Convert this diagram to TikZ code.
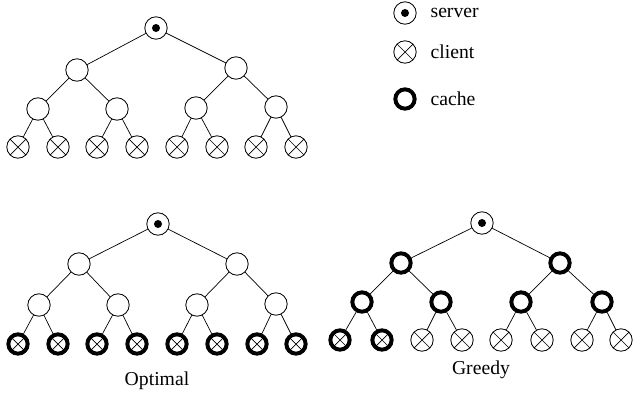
\documentclass[tikz,border=0pt]{standalone}
\usepackage{fontspec}
\setmainfont{Liberation Serif}
\newcommand{\rad}{0.28cm}
\tikzset{
    tree node/.style={circle, draw, line width=0.6pt, minimum size=2*\rad, inner sep=0pt},
    server node/.style={tree node,
        path picture={\fill (path picture bounding box.center) circle (0.1cm);}},
    client node/.style={tree node,
        path picture={\draw[line width=0.5pt]
            (path picture bounding box.north west) -- (path picture bounding box.south east)
            (path picture bounding box.north east) -- (path picture bounding box.south west);}},
    cache node/.style={line width=2.8pt, minimum size=2*\rad-2.2pt},
    tree edge/.style={draw, line width=0.5pt},
    label text/.style={font=\fontsize{14}{16}\selectfont, inner sep=0pt}
}

\begin{document}
\begin{tikzpicture}[x=0.025cm, y=-0.025cm]
        \useasboundingbox (0,0) rectangle (633,396);

        % top tree: server, plain nodes, clients
        \foreach \k/\x/\y in {2/77/70, 3/236/68, 4/38/109, 5/117/109, 6/196/108, 7/276/107}
            \node[tree node] (t\k) at (\x,\y) {};
        \foreach \k/\x in {8/18, 9/58, 10/97, 11/137, 12/177, 13/217, 14/256, 15/296}
            \node[client node] (t\k) at (\x,147) {};
        \node[server node] (t1) at (156,28) {};

        % optimal tree: caches at the clients
        \foreach \k/\x/\y in {2/79/264, 3/237/264, 4/39/305, 5/118/305, 6/197/305, 7/276/304}
            \node[tree node] (o\k) at (\x,\y) {};
        \foreach \k/\x in {8/18, 9/58, 10/97, 11/137, 12/177, 13/217, 14/257, 15/296}
            \node[client node, cache node] (o\k) at (\x,344) {};
        \node[server node] (o1) at (158,224) {};
        \node[label text] (optimal) at (157,381) {Optimal};

        % greedy tree: caches near the server
        \foreach \k/\x/\y in {2/401/263, 3/560/263, 4/362/302, 5/441/302, 6/521/302, 7/602/302}
            \node[tree node, cache node] (g\k) at (\x,\y) {};
        \foreach \k/\x in {8/340, 9/382}
            \node[client node, cache node] (g\k) at (\x,340) {};
        \foreach \k/\x in {10/422, 11/462, 12/501, 13/542, 14/582, 15/621}
            \node[client node] (g\k) at (\x,340) {};
        \node[server node] (g1) at (482,223) {};
        \node[label text] (greedy) at (481,370) {Greedy};

        % edges, child k hangs from node k/2
        \foreach \k [evaluate=\k as \p using int(floor(\k/2))] in {2,...,15} {
            \path[tree edge] (t\k) -- (t\p);
            \path[tree edge] (o\k) -- (o\p);
            \path[tree edge] (g\k) -- (g\p);
        }

        % legend
        \node[server node] (key server) at (405,13) {};
        \node[client node] (key client) at (405,52) {};
        \node[tree node, cache node] (key cache) at (405,99) {};
        \node[label text, anchor=west] at ([xshift=18pt]key server.center) {server};
        \node[label text, anchor=west] at ([xshift=18pt]key client.center) {client};
        \node[label text, anchor=west] at ([xshift=18pt]key cache.center) {cache};
\end{tikzpicture}
\end{document}
